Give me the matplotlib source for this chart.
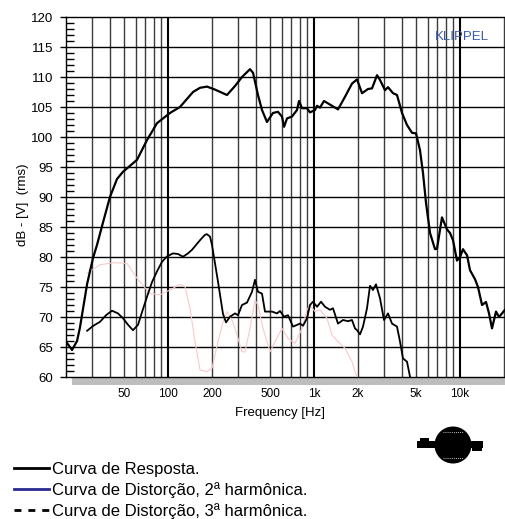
import matplotlib
matplotlib.use("Agg")
import matplotlib.pyplot as plt
from matplotlib.lines import Line2D
from matplotlib.patches import Rectangle, Circle
import numpy as np

plt.rcParams['font.family'] = ['Liberation Sans', 'DejaVu Sans']

# ---------------- data ----------------
resp_freq = [20, 22, 23.8, 24.9, 27.9, 30.6, 32.6, 35.8, 40, 44.7, 49.1, 54.9, 61.3, 71.8, 84,
             103, 120.7, 148.2, 165.5, 184.8, 209.7, 253.3, 287.5, 321, 364, 382, 413, 440, 476,
             523, 566, 603, 623, 653, 706, 764, 789, 827, 895, 938, 1015, 1048, 1098, 1170, 1286,
             1459, 1629, 1819, 1969, 2131, 2342, 2495, 2700, 2830, 3062, 3210, 3474, 3700, 4004,
             4331, 4688, 4994, 5317, 5575, 5846, 6228, 6737, 6953, 7521, 8140, 8536, 8947, 9530,
             10000, 10470, 11160, 11700, 12660, 13270, 14140, 15060, 15790, 16550, 17630, 18490, 20320]
resp_db = [65.9, 64.5, 66.0, 68.2, 75.5, 79.8, 82.0, 85.7, 90.0, 93.0, 94.2, 95.2, 96.2, 99.5, 102.3,
           104.0, 105.0, 107.5, 108.2, 108.4, 107.9, 107.0, 108.5, 110.0, 111.3, 110.7, 107.0, 104.5, 102.5,
           104.0, 104.2, 103.4, 101.7, 103.1, 103.4, 104.5, 106.0, 104.8, 104.8, 104.1, 104.5, 105.2, 104.9, 106.0, 105.4,
           104.6, 106.7, 108.9, 109.6, 107.3, 108.0, 108.1, 110.3, 109.5, 107.8, 108.3, 107.3, 107.0, 104.0,
           102.0, 100.7, 100.6, 97.8, 94.0, 89.0, 84.0, 81.3, 81.4, 86.6, 84.6, 84.0, 82.8, 79.4,
           80.0, 81.3, 80.3, 77.8, 76.3, 75.0, 72.0, 72.5, 70.6, 68.1, 70.9, 70.0, 71.2]

h2_freq = [27.9, 30.6, 34.2, 37.6, 41.3, 45.4, 49.1, 53.2, 57.5, 62.3, 66.3, 71.8, 77.6, 84, 90.9, 98.4,
           108.1, 117.0, 126.6, 136.9, 145.9, 155.4, 165.5, 179.1, 184.8, 193.8, 200, 219.8, 237.9, 249.5,
           265.7, 287.5, 301.4, 321, 347.3, 375.8, 394, 413, 440, 461.3, 515.2, 557.5, 584.6, 623, 663.2,
           717.6, 801.3, 840.2, 895, 938, 983.5, 1048, 1116, 1189, 1286, 1348, 1459, 1579, 1709, 1819,
           1908, 1969, 2064, 2164, 2305, 2417, 2533, 2656, 2830, 3014, 3210, 3419, 3700, 3879, 4067, 4331, 4542]
h2_db = [67.7, 68.5, 69.2, 70.3, 71.05, 70.6, 69.8, 68.7, 67.8, 68.7, 70.8, 73.4, 75.8, 77.6, 79.2, 80.1,
         80.6, 80.5, 80.05, 80.6, 81.2, 82.0, 82.8, 83.7, 83.8, 83.4, 82.0, 75.9, 70.5, 69.1,
         70.05, 70.6, 70.3, 72.0, 72.4, 74.2, 76.2, 74.2, 73.9, 70.9, 70.9, 70.6, 71.0, 70.05, 70.3,
         68.4, 68.9, 68.55, 69.8, 72.0, 72.55, 71.7, 72.55, 71.7, 71.2, 71.45, 68.9, 69.5, 69.3, 69.5,
         68.1, 67.8, 67.1, 68.4, 71.45, 75.2, 74.5, 75.45, 73.1, 69.5, 70.6, 68.9, 68.4, 65.9, 63.1, 62.55, 60.05]

h3_freq = [27.9, 34.2, 42.0, 52.3, 61.3, 75.2, 88.1, 103, 120.7, 130.6, 141.4, 153, 165.5, 184.8, 200,
           219.8, 237.9, 253.3, 274.2, 296.8, 321, 336.6, 364, 394, 413, 447, 500, 540, 603, 663.2,
           740.5, 827, 895, 938, 1015, 1098, 1226, 1327, 1459, 1629, 1819, 1908, 1969]
h3_db = [77.3, 78.7, 79.05, 78.95, 76.45, 73.9, 73.7, 74.5, 75.45, 75.05, 71.45, 65.9, 61.2, 60.9, 61.45,
         65.9, 69.2, 70.9, 69.5, 67.0, 64.2, 64.2, 68.1, 72.8, 72.0, 68.1, 64.2, 65.9, 68.1, 66.45,
         65.6, 68.1, 71.2, 72.0, 70.9, 71.2, 69.8, 67.0, 65.9, 64.8, 62.55, 60.9, 60.0]

x_ticks = [50, 100, 200, 500, 1000, 2000, 5000, 10000]
x_tick_labels = ['50', '100', '200', '500', '1k', '2k', '5k', '10k']
y_ticks = list(range(60, 121, 5))

legend_labels = ['Curva de Resposta.', 'Curva de Distorção, 2ª harmônica.', 'Curva de Distorção, 3ª harmônica.']

# ---------------- figure ----------------
W, H = 506, 519
fig = plt.figure(figsize=(W / 100, H / 100), dpi=100)

# decoration overlay in pixel coordinates
deco = fig.add_axes([0, 0, 1, 1], zorder=0)
deco.set_xlim(0, W)
deco.set_ylim(H, 0)
deco.axis('off')
deco.add_patch(Rectangle((72, 378), W - 72, 6.5, facecolor='#bdbdbd', edgecolor='none'))
# logo
deco.add_patch(Circle((453, 445), 18.5, facecolor='black', edgecolor='none'))
deco.add_patch(Rectangle((417, 441), 66, 7, facecolor='black', edgecolor='none'))
deco.add_patch(Rectangle((472, 443), 10, 8, facecolor='black', edgecolor='none'))
deco.add_patch(Rectangle((420, 438), 9, 4, facecolor='black', edgecolor='none'))
for yy in (432, 458):
    deco.plot([443, 463], [yy, yy], color='white', lw=0.6, ls=(0, (1, 1.5)))

ax = fig.add_axes([66 / W, (H - 377) / H, 440 / W, 360 / H], zorder=2)
ax.patch.set_alpha(0)
ax.set_xscale('log')
ax.set_xlim(20, 20640)
ax.set_ylim(60, 120)

# grid
for dec in [10, 100, 1000, 10000]:
    for m in range(1, 10):
        f = dec * m
        if 20 < f < 20640:
            if m == 1:
                ax.axvline(f, color='black', lw=1.5, zorder=1)
            else:
                ax.axvline(f, color='#3c3c3c', lw=1.0, zorder=1)
for yv in y_ticks[1:-1]:
    ax.axhline(yv, color='black', lw=1.0, zorder=1)

ax.plot(h3_freq, h3_db, color='#f7caca', lw=0.8, zorder=3, solid_joinstyle='round')
ax.plot(h2_freq, h2_db, color='black', lw=1.3, zorder=4, solid_joinstyle='round')
ax.plot(resp_freq, resp_db, color='black', lw=1.6, zorder=5, solid_joinstyle='round')

ax.set_xticks(x_ticks)
ax.set_xticklabels(x_tick_labels)
ax.xaxis.set_minor_locator(matplotlib.ticker.NullLocator())
ax.tick_params(axis='x', which='both', length=0, pad=8, labelsize=8.5)
ax.set_yticks(y_ticks)
ax.set_yticks(np.arange(60, 121, 1), minor=True)
ax.tick_params(axis='y', which='major', direction='out', length=4, width=1, pad=5, labelsize=9.5)
ax.tick_params(axis='y', which='minor', direction='in', length=6, width=1)

for s in ['left', 'top', 'bottom']:
    ax.spines[s].set_linewidth(1.0)
    ax.spines[s].set_color('black')
ax.spines['right'].set_visible(False)

fig.text(280 / W, 1 - 413 / H, 'Frequency [Hz]', ha='center', va='center', fontsize=9.5)
fig.text(23 / W, 1 - 205 / H, 'dB - [V]  (rms)', ha='center', va='center', rotation=90, fontsize=9.5)
fig.text(462 / W, 1 - 37 / H, 'KLIPPEL', ha='center', va='center', fontsize=9.5, color='#3a5ba6')

handles = [Line2D([], [], color='black', lw=2),
           Line2D([], [], color='#2a2a90', lw=2),
           Line2D([], [], color='black', lw=2, linestyle=(0, (2.5, 2.5)))]
fig.legend(handles, legend_labels, loc='upper left', bbox_to_anchor=(14 / W, 1 - 462 / H),
           frameon=False, fontsize=12, handlelength=2.1, handletextpad=0.2,
           labelspacing=0.3, borderpad=0, borderaxespad=0)

fig.savefig('out.png', dpi=100)
